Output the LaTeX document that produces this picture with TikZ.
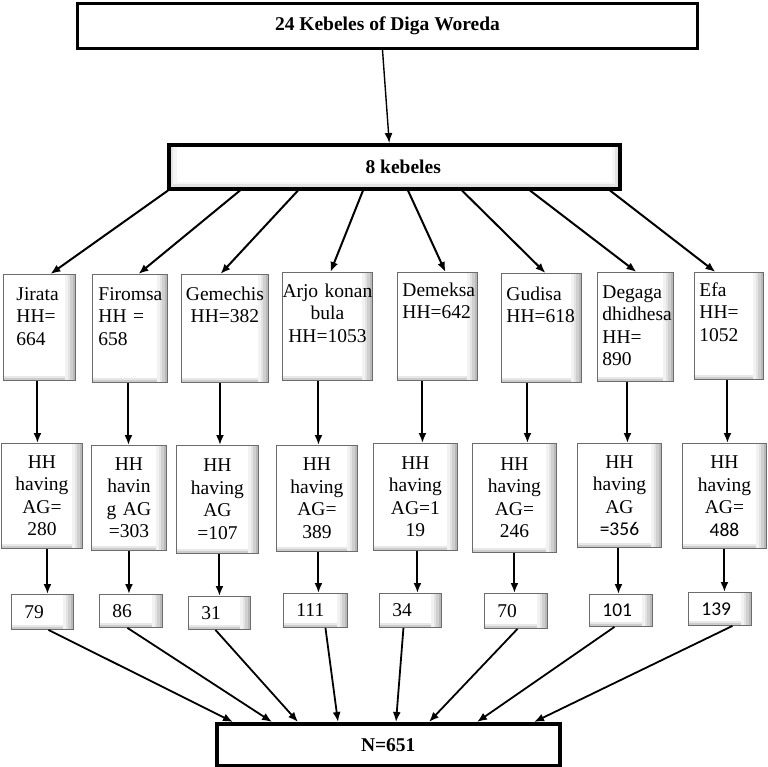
\documentclass[tikz,border=0pt]{standalone}
\usepackage{fontspec}
\setmainfont{Liberation Serif}
\newfontfamily\calfont{Carlito}
\usepackage{tikz}
\usetikzlibrary{shapes,arrows.meta}

\tikzset{
  kbox/.style={rectangle, draw=gray!85!black, line width=0.9pt, fill=white, anchor=north west,
    font=\fontsize{19.5}{22.5}\selectfont, inner xsep=2pt,
    path picture={
      % shadow on the right and bottom edge
      \fill[gray!10] ([xshift=-10pt]path picture bounding box.north east) rectangle (path picture bounding box.south east);
      \fill[gray!22] ([xshift=-7.5pt]path picture bounding box.north east) rectangle (path picture bounding box.south east);
      \fill[gray!38] ([xshift=-5pt]path picture bounding box.north east) rectangle (path picture bounding box.south east);
      \fill[gray!55] ([xshift=-2.5pt]path picture bounding box.north east) rectangle (path picture bounding box.south east);
      \fill[gray!18] ([yshift=4pt]path picture bounding box.south west) rectangle ([xshift=-10pt]path picture bounding box.south east);
      \fill[gray!40] ([yshift=2pt]path picture bounding box.south west) rectangle ([xshift=-10pt]path picture bounding box.south east);
    }},
  namebox/.style={kbox, text height=13pt, inner ysep=13pt},
  hhbox/.style={kbox, align=center},
  numbox/.style={kbox, align=left, inner xsep=13pt},
  bigbox/.style={rectangle, draw=black, line width=3.5pt, fill=white, anchor=north west,
    font=\bfseries\fontsize{19.5}{22.5}\selectfont},
  glow/.style={path picture={
      \fill[gray!8] (path picture bounding box.north west) rectangle ([xshift=8pt]path picture bounding box.south west);
      \fill[gray!22] (path picture bounding box.north west) rectangle ([xshift=4.5pt]path picture bounding box.south west);
      \fill[gray!8] ([xshift=-8pt]path picture bounding box.north east) rectangle (path picture bounding box.south east);
      \fill[gray!22] ([xshift=-4.5pt]path picture bounding box.north east) rectangle (path picture bounding box.south east);
      \fill[gray!8] ([xshift=8pt,yshift=7pt]path picture bounding box.south west) rectangle ([xshift=-8pt]path picture bounding box.south east);
      \fill[gray!22] ([xshift=4.5pt,yshift=4.5pt]path picture bounding box.south west) rectangle ([xshift=-4.5pt]path picture bounding box.south east);
    }},
  arr/.style={-{Latex[length=10pt,width=8pt]}, line width=2pt},
}

\begin{document}
\begin{tikzpicture}[x=1pt,y=-1pt]
\useasboundingbox (0,0) rectangle (768,766);

% top levels
\node[bigbox, line width=3pt, minimum width=620, minimum height=45] (diga) at (76,2) {24 Kebeles of Diga Woreda};
\node[bigbox, glow, minimum width=451, minimum height=44] (eight) at (167,143) {\hspace*{18pt}8 kebeles};

% the eight kebeles
\node[namebox, align=left, text width=46pt, inner xsep=13pt, text depth=67pt] (jirata) at (3,274) {Jirata\\HH=\\664};
\node[namebox, align=left, text width=63pt, inner xsep=6pt, text depth=69pt] (firomsa) at (92,274) {Firomsa\\HH =\\658};
\node[namebox, align=center, text width=81pt, inner xsep=3pt, text depth=69pt] (gemechis) at (181,274) {Gemechis\\HH=382};
\node[namebox, align=center, text width=90pt, inner xsep=0pt, inner ysep=12pt, text depth=71pt] (arjo) at (282,272) {Arjo~konan\\bula\\HH=1053};
\node[namebox, align=left, text width=70pt, inner xsep=5pt, inner ysep=11pt, text depth=73pt] (demeksa) at (397,272) {Demeksa\\HH=642};
\node[namebox, align=left, text width=70pt, inner xsep=5pt, inner ysep=14pt, text depth=68pt] (gudisa) at (501,273) {Gudisa\\HH=618};
\node[namebox, align=left, text width=66pt, inner xsep=5pt, text depth=70pt] (degaga) at (597,272) {Degaga\\dhidhesa\\HH=\\890};
\node[namebox, align=left, text width=59pt, inner xsep=5pt, inner ysep=11pt, text depth=72pt] (efa) at (694,272) {Efa\\HH=\\1052};

% households having AG
\node[hhbox, minimum width=81, minimum height=105, text width=77pt] (hh1) at (1,443) {HH\\having\\AG=\\280};
\node[hhbox, minimum width=75, minimum height=105, text width=71pt] (hh2) at (91,445) {HH\\havin\\g AG\\=303};
\node[hhbox, minimum width=82, minimum height=108, text width=78pt] (hh3) at (176,445) {HH\\having\\AG\\=107};
\node[hhbox, minimum width=81, minimum height=106, text width=77pt] (hh4) at (276,445) {HH\\having\\AG=\\389};
\node[hhbox, minimum width=84, minimum height=107, text width=80pt] (hh5) at (373,443) {HH\\having\\AG=1\\19};
\node[hhbox, minimum width=84, minimum height=109, text width=80pt] (hh6) at (472,443) {HH\\having\\AG=\\246};
\node[hhbox, minimum width=84, minimum height=104, text width=80pt] (hh7) at (577,443) {HH\\having\\AG\\{\calfont =356}};
\node[hhbox, minimum width=84, minimum height=105, text width=80pt] (hh8) at (682,443) {HH\\having\\AG=\\{\calfont 488}};

% sample sizes
\node[numbox, minimum height=35, text width=36pt] (n79) at (11,594) {79};
\node[numbox, minimum height=33, text width=37pt] (n86) at (99,594) {86};
\node[numbox, minimum height=33, text width=36pt] (n31) at (188,596) {31};
\node[numbox, minimum height=34, text width=38pt] (n111) at (283,593) {111};
\node[numbox, minimum height=34, text width=36pt] (n34) at (379,593) {34};
\node[numbox, minimum height=35, text width=37pt] (n70) at (484,593) {70};
\node[numbox, minimum height=32, text width=37pt] (n101) at (589,594) {\calfont 101};
\node[numbox, minimum height=33, text width=37pt] (n139) at (688,592) {\calfont 139};

\node[bigbox, minimum width=343, minimum height=42] (total) at (215,722) {N=651};

% arrows
\draw[arr, line width=1.4pt] ([xshift=-5pt]diga.south) -- ([xshift=-5pt]eight.north);

\draw[arr] ([xshift=1pt]eight.south west) -- ([xshift=11pt]jirata.north);
\draw[arr] ([xshift=73pt]eight.south west) -- ([xshift=8.5pt]firomsa.north);
\draw[arr] ([xshift=131pt]eight.south west) -- ([xshift=-4.5pt]gemechis.north);
\draw[arr] ([xshift=196pt]eight.south west) -- ([xshift=3pt]arjo.north);
\draw[arr] ([xshift=241pt]eight.south west) -- ([xshift=8pt]demeksa.north);
\draw[arr] ([xshift=295pt]eight.south west) -- ([xshift=4pt]gudisa.north);
\draw[arr] ([xshift=363pt]eight.south west) -- ([xshift=1pt]degaga.north);
\draw[arr] ([xshift=443pt]eight.south west) -- ([xshift=-13.5pt]efa.north);

\draw[arr] ([xshift=-2pt]jirata.south) -- ([xshift=-2pt]jirata.south |- hh1.north);
\draw[arr] ([xshift=-1.5pt]firomsa.south) -- ([xshift=-1.5pt]firomsa.south |- hh2.north);
\draw[arr] ([xshift=-5pt]gemechis.south) -- ([xshift=-5pt]gemechis.south |- hh3.north);
\draw[arr] ([xshift=-9pt]arjo.south) -- ([xshift=-9pt]arjo.south |- hh4.north);
\draw[arr] ([xshift=-15pt]demeksa.south) -- ([xshift=-15pt]demeksa.south |- hh5.north);
\draw[arr] ([xshift=-14pt]gudisa.south) -- ([xshift=-14pt]gudisa.south |- hh6.north);
\draw[arr] ([xshift=-8pt]degaga.south) -- ([xshift=-8pt]degaga.south |- hh7.north);
\draw[arr] ([xshift=-1.5pt]efa.south) -- ([xshift=-1.5pt]efa.south |- hh8.north);

\draw[arr] ([xshift=5.5pt]hh1.south) -- ([xshift=5.5pt]hh1.south |- n79.north);
\draw[arr] (hh2.south) -- (hh2.south |- n86.north);
\draw[arr] ([xshift=2pt]hh3.south) -- ([xshift=2pt]hh3.south |- n31.north);
\draw[arr] ([xshift=1.5pt]hh4.south) -- ([xshift=1.5pt]hh4.south |- n111.north);
\draw[arr] ([xshift=2pt]hh5.south) -- ([xshift=2pt]hh5.south |- n34.north);
\draw[arr] (hh6.south) -- (hh6.south |- n70.north);
\draw[arr] ([xshift=-1pt]hh7.south) -- ([xshift=-1pt]hh7.south |- n101.north);
\draw[arr] (hh8.south) -- (hh8.south |- n139.north);

\draw[arr, line width=1.8pt] ([xshift=6pt]n79.south) -- ([xshift=18pt]total.north west);
\draw[arr, line width=1.8pt] ([xshift=-3.5pt]n86.south) -- ([xshift=57pt]total.north west);
\draw[arr, line width=1.8pt] ([xshift=-4pt]n31.south) -- ([xshift=83pt]total.north west);
\draw[arr, line width=1.8pt] ([xshift=10pt]n111.south) -- ([xshift=123pt]total.north west);
\draw[arr, line width=1.8pt] ([xshift=-7pt]n34.south) -- ([xshift=181pt]total.north west);
\draw[arr, line width=1.8pt] ([xshift=1.5pt]n70.south) -- ([xshift=214pt]total.north west);
\draw[arr, line width=1.8pt] ([xshift=-6.5pt]n101.south) -- ([xshift=262pt]total.north west);
\draw[arr, line width=1.8pt] ([xshift=12.5pt]n139.south) -- ([xshift=319pt]total.north west);
\end{tikzpicture}
\end{document}
